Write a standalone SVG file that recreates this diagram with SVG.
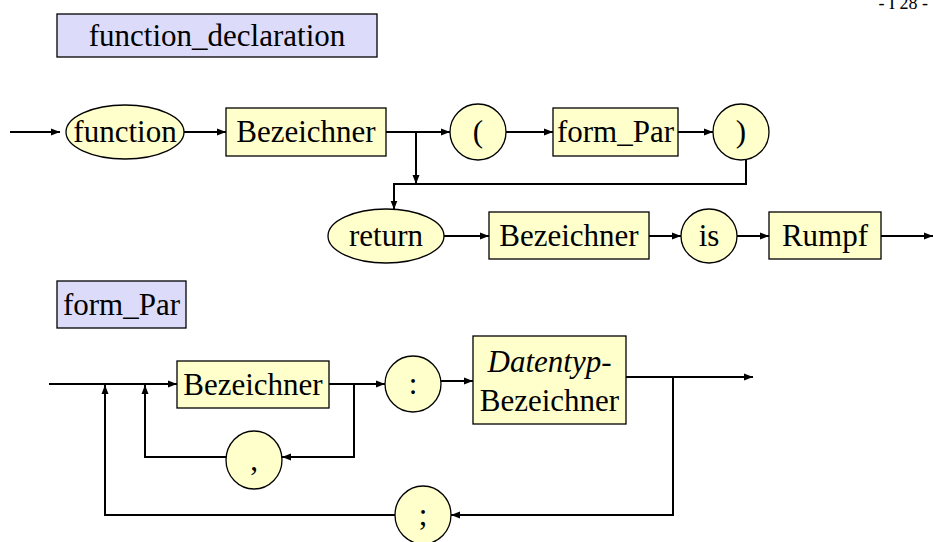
<svg xmlns="http://www.w3.org/2000/svg" width="933" height="542" viewBox="0 0 933 542" font-family="'Liberation Serif', 'DejaVu Serif', serif">
<defs>
<marker id="ah" markerWidth="10" markerHeight="8" refX="9" refY="4" orient="auto" markerUnits="userSpaceOnUse">
<path d="M0,0.5 L9,4 L0,7.5 Z" fill="#000"/>
</marker>
<style>
text{font-family:'Liberation Serif','DejaVu Serif',serif;font-size:31px;fill:#000;text-anchor:middle}
.t{fill:#DCDCFA;stroke:#000;stroke-width:1.3}
.y{fill:#FFFFCC;stroke:#000;stroke-width:1.3}
.a{fill:none;stroke:#000;stroke-width:2;marker-end:url(#ah)}
.pg{font-size:18px;text-anchor:end}
</style>
</defs>
<text class="pg" x="928" y="9">- I 28 -</text>
<g id="title1"><rect class="t" x="57" y="14" width="320" height="43"/><text x="217" y="46">function_declaration</text></g>
<g id="n_function"><ellipse class="y" cx="125" cy="132" rx="59" ry="27"/><text x="125" y="142">function</text></g>
<g id="n_bez1"><rect class="y" x="226" y="108" width="160" height="48"/><text x="306" y="142">Bezeichner</text></g>
<g id="n_lpar"><circle class="y" cx="478" cy="132" r="28"/><text x="478" y="142">(</text></g>
<g id="n_formpar"><rect class="y" x="553" y="108" width="125" height="48"/><text x="615.5" y="142">form_Par</text></g>
<g id="n_rpar"><circle class="y" cx="741" cy="132" r="28"/><text x="741" y="142">)</text></g>
<g id="n_return"><ellipse class="y" cx="386" cy="236" rx="58" ry="27"/><text x="386" y="246">return</text></g>
<g id="n_bez2"><rect class="y" x="489" y="212" width="160" height="47"/><text x="569" y="246">Bezeichner</text></g>
<g id="n_is"><ellipse class="y" cx="709" cy="236" rx="28" ry="27"/><text x="709" y="246">is</text></g>
<g id="n_rumpf"><rect class="y" x="769" y="212" width="112" height="47"/><text x="825" y="246">Rumpf</text></g>
<g id="title2"><rect class="t" x="57" y="281" width="129" height="47"/><text x="121.5" y="315">form_Par</text></g>
<g id="n_bez3"><rect class="y" x="177" y="361" width="152" height="47"/><text x="253" y="395">Bezeichner</text></g>
<g id="n_colon"><circle class="y" cx="413" cy="384" r="28"/><text x="413" y="394">:</text></g>
<g id="n_datentyp"><rect class="y" x="473" y="336" width="153" height="88"/><text x="549.5" y="372" font-style="italic">Datentyp-</text><text x="549.5" y="411">Bezeichner</text></g>
<g id="n_comma"><ellipse class="y" cx="254" cy="460" rx="28" ry="29"/><text x="254" y="470">,</text></g>
<g id="n_semi"><ellipse class="y" cx="423" cy="515" rx="28" ry="29"/><text x="423" y="525">;</text></g>
<g id="connectors">
<line class="a" x1="10" y1="132" x2="60" y2="132"/>
<line class="a" x1="184" y1="132" x2="226" y2="132"/>
<line class="a" x1="386" y1="132" x2="450" y2="132"/>
<line class="a" x1="416" y1="132" x2="416" y2="184"/>
<line class="a" x1="506" y1="132" x2="553" y2="132"/>
<line class="a" x1="678" y1="132" x2="713" y2="132"/>
<polyline class="a" points="746,160 746,184 394,184 394,209.5"/>
<line class="a" x1="444" y1="236" x2="489" y2="236"/>
<line class="a" x1="649" y1="236" x2="681" y2="236"/>
<line class="a" x1="737" y1="236" x2="769" y2="236"/>
<line class="a" x1="881" y1="236" x2="933" y2="236"/>
<line class="a" x1="49" y1="384" x2="177" y2="384"/>
<line class="a" x1="329" y1="384" x2="385" y2="384"/>
<polyline class="a" points="354,384 354,457 282,457"/>
<polyline class="a" points="226,457 145,457 145,385"/>
<line class="a" x1="441" y1="381" x2="473" y2="381"/>
<line class="a" x1="626" y1="377" x2="753" y2="377"/>
<polyline class="a" points="673,377 673,515 451,515"/>
<polyline class="a" points="395,515 105,515 105,385"/>
</g>
</svg>
